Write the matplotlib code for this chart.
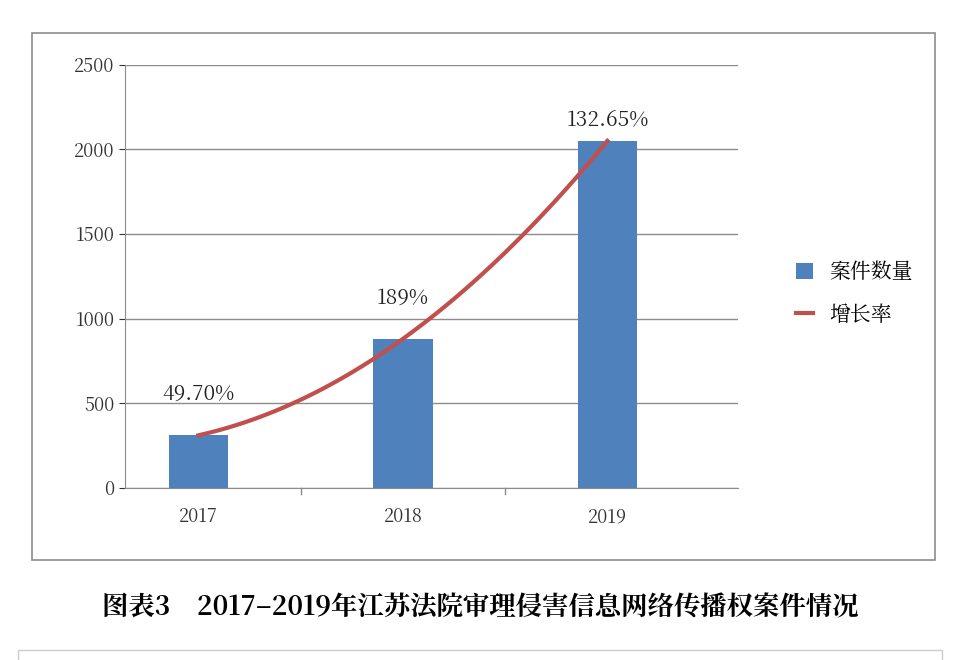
import matplotlib.pyplot as plt
import numpy as np
from matplotlib import font_manager
from matplotlib.patches import Rectangle

cjk = [f.name for f in font_manager.fontManager.ttflist if "CJK" in f.name]
cjk_name = "Noto Sans CJK SC" if "Noto Sans CJK SC" in cjk else (cjk[0] if cjk else "DejaVu Sans")
plt.rcParams["font.family"] = [cjk_name, "DejaVu Sans"]

years = ["2017", "2018", "2019"]
cases = [310, 880, 2050]
rate_labels = ["49.70%", "189%", "132.65%"]

fig = plt.figure(figsize=(9.6, 6.6), dpi=100)
fig.patches.append(Rectangle((32 / 960, 1 - 560 / 660), 903 / 960, 527 / 660,
                             transform=fig.transFigure, fill=False, ec="#8c8c8c", lw=1.2))
fig.patches.append(Rectangle((18 / 960, -0.05), 924 / 960, 0.065,
                             transform=fig.transFigure, fill=False, ec="#cccccc", lw=1))

ax = fig.add_axes([0.130, 0.261, 0.639, 0.641])
x = np.arange(len(years))
bars = ax.bar(x, cases, width=0.29, color="#4F81BD", label="案件数量", zorder=2)

# smooth curve through the bar tops
coef = np.polyfit(x, cases, 2)
xs = np.linspace(x[0], x[-1], 100)
line, = ax.plot(xs, np.polyval(coef, xs), color="#C0504D", lw=3, label="增长率", zorder=3)

for xi, v, lab, off in zip(x, cases, rate_labels, [180, 180, 60]):
    ax.text(xi, v + off, lab, ha="center", va="bottom", fontsize=15, color="#222222")

ax.set_xlim(-0.36, 2.64)
ax.set_ylim(0, 2500)
ax.set_yticks(range(0, 2501, 500))
ax.set_xticks(x)
ax.set_xticklabels(years)
ax.tick_params(labelsize=13, colors="#333333", length=4)
ax.tick_params(axis="x", length=0, pad=14)
ax.grid(axis="y", color="#8c8c8c", lw=1, zorder=0)
for s in ["top", "right"]:
    ax.spines[s].set_visible(False)
ax.spines["left"].set_color("#8c8c8c")
ax.spines["bottom"].set_color("#8c8c8c")
for b in [0.5, 1.5]:
    ax.axvline(b, ymin=-0.015, ymax=0, color="#8c8c8c", lw=1, clip_on=False)

fig.legend([bars, line], ["案件数量", "增长率"], loc="center left",
           bbox_to_anchor=(0.81, 0.555), frameon=False,
           fontsize=15, handlelength=0.8, handleheight=0.8, labelspacing=1.0)

fig.text(0.5, 1 - 608 / 660, "图表3    2017–2019年江苏法院审理侵害信息网络传播权案件情况",
         ha="center", va="center", fontsize=19, fontweight="bold")

fig.savefig("out.png", dpi=100)
